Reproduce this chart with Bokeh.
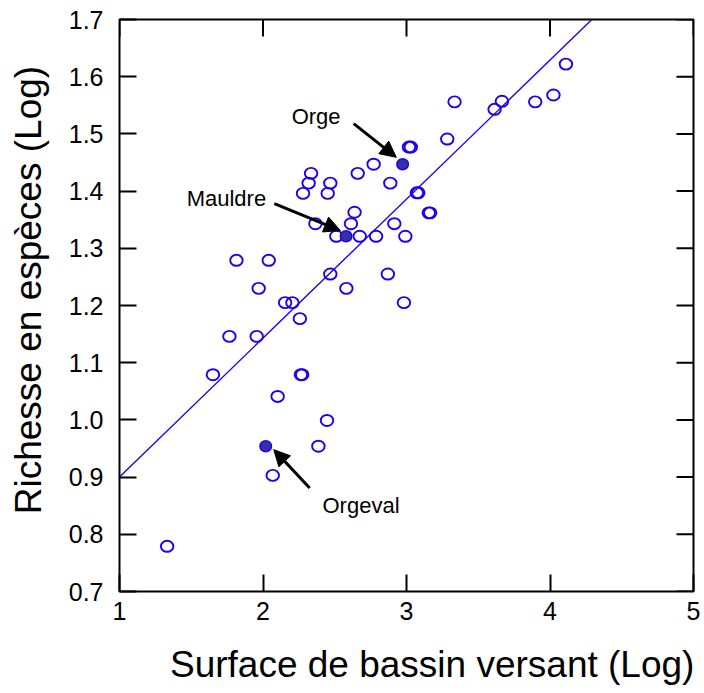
import math
from bokeh.plotting import figure
from bokeh.models import (Range1d, Arrow, NormalHead,
                          FixedTicker, NumeralTickFormatter, ColumnDataSource)
from bokeh.core.properties import value
from bokeh.embed import file_html
from bokeh.resources import INLINE

# ---- data (log catchment surface, log species richness) ----
open_x = [1.332, 1.651, 1.766, 1.815, 1.956, 1.970, 2.040, 2.068, 2.102, 2.154,
          2.205, 2.257, 2.264, 2.273, 2.279, 2.318, 2.335, 2.365, 2.386, 2.446,
          2.451, 2.469, 2.469, 2.511, 2.581, 2.613, 2.638, 2.660, 2.674, 2.771,
          2.788, 2.870, 2.887, 2.915, 2.982, 2.992, 3.017, 3.030, 3.072, 3.082,
          3.155, 3.165, 3.284, 3.335, 3.614, 3.665, 3.897, 4.024, 4.111]
open_y = [0.779, 1.079, 1.146, 1.279, 1.146, 1.230, 1.279, 0.903, 1.041, 1.205,
          1.205, 1.177, 1.079, 1.079, 1.396, 1.414, 1.431, 1.343, 0.954, 0.999,
          1.396, 1.414, 1.255, 1.321, 1.230, 1.343, 1.363, 1.431, 1.321, 1.447,
          1.321, 1.255, 1.414, 1.343, 1.205, 1.321, 1.477, 1.477, 1.397, 1.397,
          1.362, 1.362, 1.491, 1.556, 1.543, 1.557, 1.556, 1.568, 1.622]

named_rivers = ["Orge", "Mauldre", "Orgeval"]
named_x = [2.973, 2.579, 2.019]
named_y = [1.447, 1.321, 0.954]

# annotation label positions and arrow starts/ends (data units)
label_x = [2.37, 1.745, 2.683]
label_y = [1.530, 1.387, 0.850]
arrow_start_x = [2.632, 2.079, 2.325]
arrow_start_y = [1.518, 1.378, 0.881]
arrow_end_x = [2.929, 2.539, 2.075]
arrow_end_y = [1.459, 1.331, 0.948]

# regression line
fit_intercept = 0.657
fit_slope = 0.243
fit_x = [1.0, 4.29]

x_ticks = [1, 2, 3, 4, 5]
y_ticks = [0.7, 0.8, 0.9, 1.0, 1.1, 1.2, 1.3, 1.4, 1.5, 1.6, 1.7]

x_label = "Surface de bassin versant (Log)"
y_label = "Richesse en espèces (Log)"

FONT = "Liberation Sans"
BLUE = "#2200ee"
NBSP = "\u00a0"

p = figure(width=700, height=693, x_range=Range1d(1, 5), y_range=Range1d(0.7, 1.7),
           output_backend="svg", toolbar_location=None, title=None,
           min_border_left=119, min_border_right=7, min_border_top=19,
           min_border_bottom=102)
p.grid.visible = False
p.outline_line_color = "black"
p.outline_line_width = 2
p.background_fill_color = "white"
p.border_fill_color = "white"

xb = p.xaxis[0]
yl = p.yaxis[0]
xb.ticker = FixedTicker(ticks=x_ticks)
xb.formatter = NumeralTickFormatter(format="0")
yl.ticker = FixedTicker(ticks=y_ticks)
yl.formatter = NumeralTickFormatter(format="0.0")

for ax in [xb, yl]:
    ax.axis_line_color = None
    ax.major_tick_in = 17
    ax.major_tick_out = 0
    ax.major_tick_line_width = 2
    ax.major_tick_line_color = "black"
    ax.minor_tick_line_color = None
    ax.major_label_text_font = FONT
    ax.major_label_text_font_size = "25px"
    ax.major_label_text_color = "black"
    ax.axis_label_text_font = FONT
    ax.axis_label_text_font_size = "37px"
    ax.axis_label_text_font_style = "normal"
    ax.axis_label_text_color = "black"

xb.major_label_standoff = 10
yl.major_label_standoff = 16

# axis titles (non-breaking spaces shift them off-centre as in the original)
xb.axis_label = NBSP * 5 + x_label
xb.axis_label_standoff = 21
yl.axis_label = NBSP * 3 + y_label
yl.axis_label_standoff = 17

# inward ticks on the top and right edges
p.ray(x=x_ticks, y=[y_ticks[-1]] * len(x_ticks), length=17, length_units="screen",
      angle=-math.pi / 2, line_color="black", line_width=2)
p.ray(x=[x_ticks[-1]] * len(y_ticks), y=y_ticks, length=17, length_units="screen",
      angle=math.pi, line_color="black", line_width=2)

# regression line
fit_y = [fit_intercept + fit_slope * v for v in fit_x]
p.line(fit_x, fit_y, line_color=BLUE, line_width=1.4)

# open points
p.ellipse(x=open_x, y=open_y, width=12.5, height=11, width_units="screen",
          height_units="screen", fill_color=None, line_color=BLUE, line_width=1.9)

# named points
p.ellipse(x=named_x, y=named_y, width=11.5, height=11, width_units="screen",
          height_units="screen", fill_color="#33339f", line_color=BLUE, line_width=1.5)

# arrows
for i in range(len(named_rivers)):
    p.add_layout(Arrow(end=NormalHead(size=16, fill_color="black", line_color="black"),
                       x_start=arrow_start_x[i], y_start=arrow_start_y[i],
                       x_end=arrow_end_x[i], y_end=arrow_end_y[i],
                       line_color="black", line_width=3))

src = ColumnDataSource(dict(x=label_x, y=label_y, t=named_rivers))
p.text(x="x", y="y", text="t", source=src, text_font=value(FONT),
       text_font_size="22px", text_align="center", text_baseline="middle",
       text_color="black")

open("out.html", "w").write(file_html(p, INLINE))
